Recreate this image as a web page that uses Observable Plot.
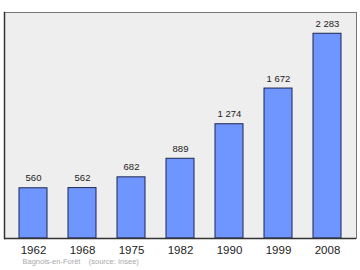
<!DOCTYPE html>
<html>
<head>
<meta charset="utf-8">
<script src="https://cdn.jsdelivr.net/npm/d3@7"></script>
<script src="https://cdn.jsdelivr.net/npm/@observablehq/plot@0.6"></script>
<style>
  html, body { margin: 0; padding: 0; background: #fff; }
  svg { display: block; }
</style>
</head>
<body>
<div id="chart"></div>
<script>
const years = ["1962", "1968", "1975", "1982", "1990", "1999", "2008"];
const population = [560, 562, 682, 889, 1274, 1672, 2283];
const valueLabels = ["560", "562", "682", "889", "1 274", "1 672", "2 283"];
const caption = "Bagnols-en-Forêt\u00a0\u00a0\u00a0\u00a0(source: Insee)";

const data = years.map((y, i) => ({year: y, pop: population[i], label: valueLabels[i]}));

const chart = Plot.plot({
  width: 360,
  height: 270,
  marginLeft: 4,
  marginRight: 4,
  marginTop: 12,
  marginBottom: 32,
  style: {fontFamily: "Liberation Sans, Arial, sans-serif", background: "#fff"},
  x: {domain: years, paddingInner: 0.42, paddingOuter: 0.29, label: null, tickSize: 0, tickPadding: 7},
  y: {domain: [0, 2520], axis: null},
  marks: [
    Plot.frame({fill: "#eeeeee", stroke: "#777", strokeWidth: 1}),
    Plot.frame({anchor: "left", stroke: "#333", strokeWidth: 1.5}),
    Plot.barY(data, {x: "year", y: "pop", fill: "#6f96ff", stroke: "#1c2550", strokeWidth: 1}),
    Plot.text(data, {x: "year", y: "pop", text: "label", dy: -10, fontSize: 9.5, fill: "#222"}),
    Plot.ruleY([0], {stroke: "#333", strokeWidth: 1.5}),
    Plot.axisX({tickSize: 0, tickPadding: 7, fontSize: 11.5, color: "#222", label: null}),
    Plot.text([caption], {frameAnchor: "bottom-left", dx: 18, dy: 25, fontSize: 7.5, fill: "#aaa", textAnchor: "start"})
  ]
});
document.getElementById("chart").appendChild(chart);
</script>
</body>
</html>
